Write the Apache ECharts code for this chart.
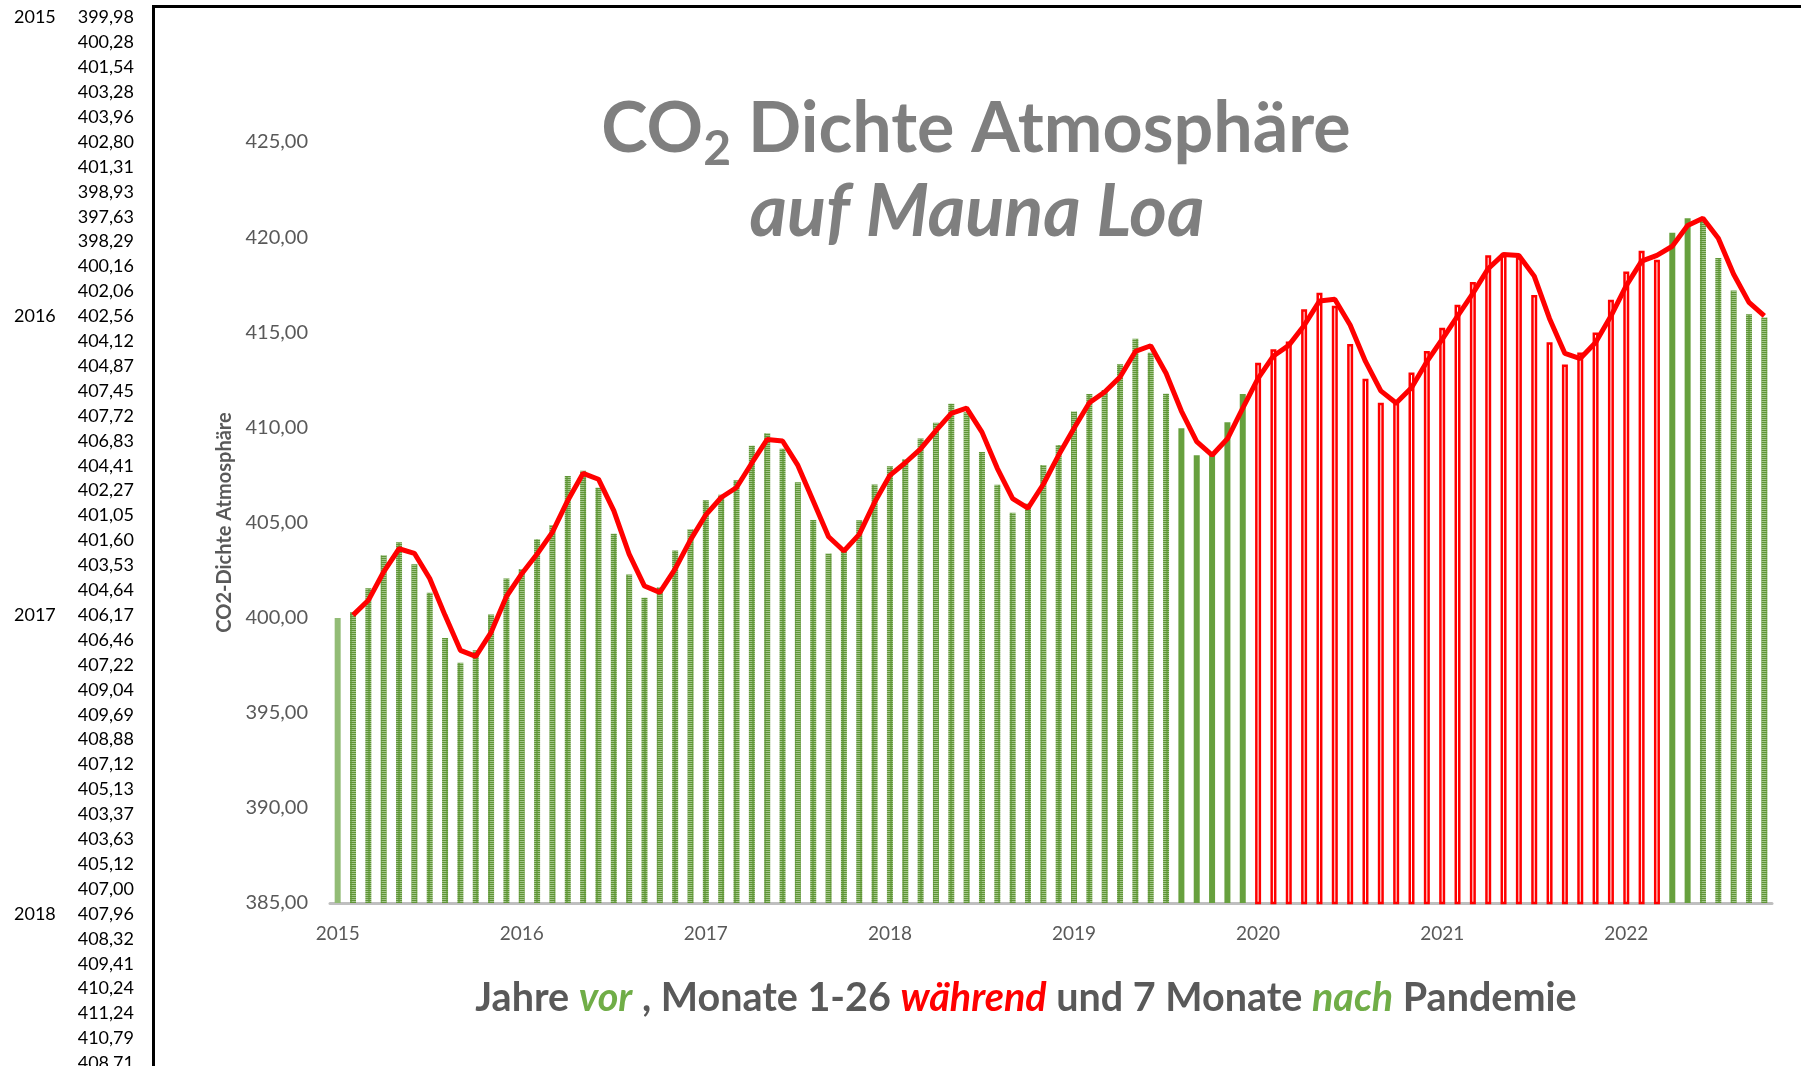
<!DOCTYPE html>
<html><head><meta charset="utf-8">
<script src="https://cdn.jsdelivr.net/npm/echarts@6/dist/echarts.min.js"></script>
<style>html,body{margin:0;padding:0;background:#fff;overflow:hidden}#c{width:1801px;height:1066px}</style>
</head><body><div id="c"></div>
<script>
// ---------------- DATA ----------------
const years = ['2015', '2016', '2017', '2018', '2019', '2020', '2021', '2022'];
const monthNums = ['01','02','03','04','05','06','07','08','09','10','11','12'];
const co2_2015 = [399.98, 400.28, 401.54, 403.28, 403.96, 402.80, 401.31, 398.93, 397.63, 398.29, 400.16, 402.06];
const co2_2016 = [402.56, 404.12, 404.87, 407.45, 407.72, 406.83, 404.41, 402.27, 401.05, 401.60, 403.53, 404.64];
const co2_2017 = [406.17, 406.46, 407.22, 409.04, 409.69, 408.88, 407.12, 405.13, 403.37, 403.63, 405.12, 407.00];
const co2_2018 = [407.96, 408.32, 409.41, 410.24, 411.24, 410.79, 408.71, 406.99, 405.51, 406.00, 408.02, 409.07];
const co2_2019 = [410.83, 411.75, 411.97, 413.32, 414.66, 413.92, 411.77, 409.95, 408.54, 408.53, 410.27, 411.76];
const co2_2020 = [413.40, 414.11, 414.51, 416.21, 417.07, 416.39, 414.38, 412.55, 411.29, 411.28, 412.89, 414.02];
const co2_2021 = [415.24, 416.45, 417.64, 419.05, 419.13, 418.94, 416.96, 414.47, 413.30, 413.93, 414.99, 416.71];
const co2_2022 = [418.19, 419.28, 418.81, 420.23, 420.99, 420.99, 418.90, 417.19, 415.95, 415.78];
const yAxisMin = 385, yAxisMax = 425, yAxisStep = 5;

// periods (bar styling)
const pandemicFirst = '2020-01', pandemicLast = '2022-03';
const solidGreenMonths = ['2019-08','2019-09','2019-10','2019-11','2019-12','2022-04','2022-05'];
const lightGreenMonths = ['2015-01'];

// texts
const titleA = 'CO', titleSub = '2', titleB = ' Dichte Atmosphäre';
const titleLine2 = 'auf Mauna Loa';
const yAxisTitle = 'CO2-Dichte Atmosphäre';
const subtitleParts = [
  ['g', 'Jahre '], ['gv', 'vor'], ['g', ' , Monate 1-26 '], ['r', 'während'],
  ['g', ' und 7 Monate '], ['gv', 'nach'], ['g', ' Pandemie']
];

// ---------------- BUILD ----------------
const values = [].concat(co2_2015, co2_2016, co2_2017, co2_2018, co2_2019, co2_2020, co2_2021, co2_2022);
const categories = [];
years.forEach(y => monthNums.forEach(m => categories.push(y + '-' + m)));
categories.length = values.length;

// Excel trendline: moving average, period 2
const trend = values.map((v, i) => i === 0 ? null : +((values[i - 1] + v) / 2).toFixed(3));

const fmt = v => v.toFixed(2).replace('.', ',');

// striped green pattern
const pat = document.createElement('canvas');
pat.width = 6; pat.height = 2;
const pc = pat.getContext('2d');
pc.fillStyle = '#5f9536'; pc.fillRect(0, 0, 6, 1);
pc.fillStyle = '#a3c68a'; pc.fillRect(0, 1, 6, 1);
pc.fillStyle = '#7aab57'; pc.fillRect(2, 1, 2, 1);
const stripe = { image: pat, repeat: 'repeat' };

const barData = values.map((v, i) => {
  const k = categories[i];
  let itemStyle;
  if (k >= pandemicFirst && k <= pandemicLast) itemStyle = { color: '#ffffff', borderColor: '#ff0000', borderWidth: 2.5 };
  else if (solidGreenMonths.includes(k)) itemStyle = { color: '#67a03e' };
  else if (lightGreenMonths.includes(k)) itemStyle = { color: '#92bc76' };
  else itemStyle = { color: stripe };
  return { value: v, itemStyle };
});

// measuring helper
const mc = document.createElement('canvas').getContext('2d');
function tw(t, font) { mc.font = font; return mc.measureText(t).width; }

const FF = 'Lato';
const graphic = [];
// frame lines
graphic.push({ type: 'line', z: 10, shape: { x1: 153.5, y1: 5, x2: 153.5, y2: 1066 }, style: { stroke: '#000', lineWidth: 3 } });
graphic.push({ type: 'line', z: 10, shape: { x1: 152, y1: 6.5, x2: 1801, y2: 6.5 }, style: { stroke: '#000', lineWidth: 3 } });

// left data column
for (let i = 0; i < values.length; i++) {
  const yy = 17.5 + 24.9 * i;
  if (yy > 1075) break;
  if (i % 12 === 0) {
    graphic.push({ type: 'text', x: 14, y: yy, style: { text: categories[i].slice(0, 4), font: '18px ' + FF, fill: '#000', align: 'left', verticalAlign: 'middle' } });
  }
  graphic.push({ type: 'text', x: 134, y: yy, style: { text: fmt(values[i]), font: '18px ' + FF, fill: '#000', align: 'right', verticalAlign: 'middle' } });
}

// title line 1
const s1 = 70, sSub = 48;
const f1 = `bold ${s1}px ${FF}`, fSub = `bold ${sSub}px ${FF}`;
const wA = tw(titleA, f1), wS = tw(titleSub, fSub), wB = tw(titleB, f1);
const x1 = 976 - (wA + wS + wB) / 2;
const base1 = 157;
graphic.push({ type: 'text', x: x1, y: base1 - 0.387 * s1, style: { text: titleA, font: f1, fill: '#7f7f7f', align: 'left', verticalAlign: 'middle' } });
graphic.push({ type: 'text', x: x1 + wA, y: 168 - 0.387 * sSub, style: { text: titleSub, font: fSub, fill: '#7f7f7f', align: 'left', verticalAlign: 'middle' } });
graphic.push({ type: 'text', x: x1 + wA + wS, y: base1 - 0.387 * s1, style: { text: titleB, font: f1, fill: '#7f7f7f', align: 'left', verticalAlign: 'middle' } });
// title line 2
const s2 = 72;
graphic.push({ type: 'text', x: 977, y: 241 - 0.387 * s2, style: { text: titleLine2, font: `italic bold ${s2}px ${FF}`, fill: '#7f7f7f', align: 'center', verticalAlign: 'middle' } });

// subtitle
const s3 = 39.5;
graphic.push({
  type: 'text', x: 1026, y: 1014 - 0.387 * s3,
  style: {
    text: subtitleParts.map(p => `{${p[0]}|${p[1]}}`).join(''),
    align: 'center', verticalAlign: 'middle', fill: '#595959',
    rich: {
      g: { fontFamily: FF, fontWeight: 'bold', fontSize: s3, fill: '#595959' },
      gv: { fontFamily: FF, fontWeight: 'bold', fontStyle: 'italic', fontSize: s3, fill: '#70ad47' },
      r: { fontFamily: FF, fontWeight: 'bold', fontStyle: 'italic', fontSize: s3, fill: '#ff0000' }
    }
  }
});

const chart = echarts.init(document.getElementById('c'), null, { renderer: 'canvas' });
chart.setOption({
  animation: false,
  backgroundColor: '#ffffff',
  grid: { left: 330, right: 29, top: 142, bottom: 163, containLabel: false },
  xAxis: {
    type: 'category',
    data: categories,
    boundaryGap: true,
    axisLine: { show: true, lineStyle: { color: '#bfbfbf', width: 3 } },
    axisTick: { show: false },
    axisLabel: { interval: 11, formatter: v => v.slice(0, 4), color: '#595959', fontFamily: FF, fontSize: 19, margin: 21 },
    splitLine: { show: false }
  },
  yAxis: {
    type: 'value',
    min: yAxisMin, max: yAxisMax, interval: yAxisStep,
    name: yAxisTitle, nameLocation: 'middle', nameGap: 95, nameRotate: 90,
    nameTextStyle: { color: '#595959', fontFamily: FF, fontWeight: 'bold', fontSize: 20 },
    axisLine: { show: false }, axisTick: { show: false },
    splitLine: { show: false },
    axisLabel: { formatter: fmt, color: '#595959', fontFamily: FF, fontSize: 20, margin: 22 }
  },
  series: [
    { type: 'bar', data: barData, barWidth: 6, z: 2 },
    { type: 'line', data: trend, symbol: 'none', z: 4, lineStyle: { color: '#ff0000', width: 5 }, itemStyle: { color: '#ff0000' } }
  ],
  graphic: graphic
});
</script>
</body></html>
